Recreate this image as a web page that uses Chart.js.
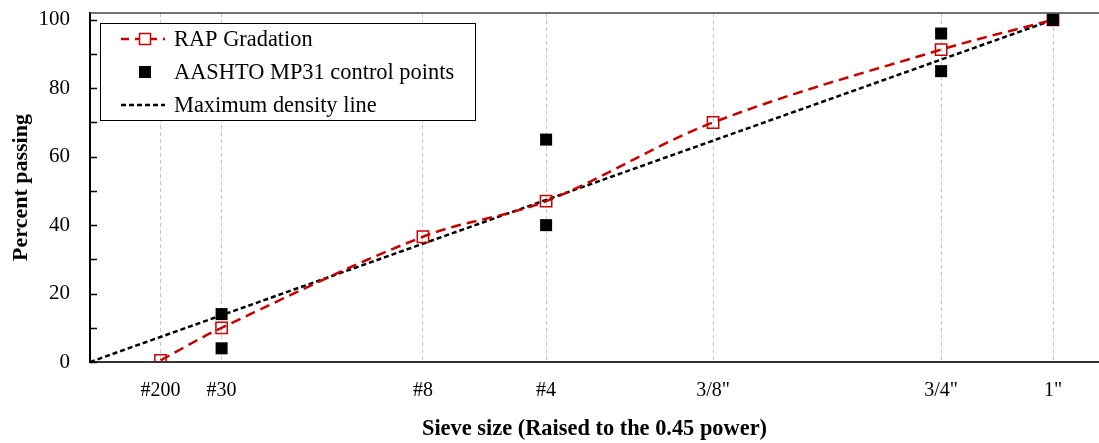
<!DOCTYPE html>
<html>
<head>
<meta charset="utf-8">
<script src="https://cdn.jsdelivr.net/npm/chart.js@4"></script>
<style>
  html, body { margin: 0; padding: 0; background: #fff; }
  #chart { display: block; }
</style>
</head>
<body>
<canvas id="chart" width="1099" height="443"></canvas>
<script>
// sieve openings (mm) and their labels; axis is size^0.45
const sieveLabels = ['#200', '#30', '#8', '#4', '3/8"', '3/4"', '1"'];
const sieveSizes = [0.075, 0.3, 2.36, 4.75, 9.5, 19, 25];

const rapPassing = [0.5, 10, 36.6, 47, 70, 91.3, 100];

const controlSieves = [0.3, 0.3, 4.75, 4.75, 19, 19, 25];
const controlPassing = [14, 4, 65, 40, 96, 85, 100];

const maxDensitySieves = [0, 25];
const maxDensityPassing = [0, 100];

const yTicks = [0, 10, 20, 30, 40, 50, 60, 70, 80, 90, 100];

const POWER = 0.45;
const toX = s => Math.pow(s, POWER);
const RED = '#c80000';
const FONT = "'Liberation Serif', 'Times New Roman', serif";

const pts = (xs, ys) => xs.map((s, i) => ({ x: toX(s), y: ys[i] }));

// inward tick marks on y axis + top frame line
const framePlugin = {
  id: 'frame',
  afterDraw(chart) {
    const { ctx, chartArea } = chart;
    const y = chart.scales.y;
    ctx.save();
    ctx.strokeStyle = '#000';
    ctx.lineWidth = 1.5;
    yTicks.forEach(v => {
      const py = Math.round(y.getPixelForValue(v)) + 0.5;
      ctx.beginPath();
      ctx.moveTo(chartArea.left, py);
      ctx.lineTo(chartArea.left + 7, py);
      ctx.stroke();
    });
    ctx.strokeStyle = '#444';
    ctx.lineWidth = 1.5;
    ctx.beginPath();
    ctx.moveTo(chartArea.left, chartArea.top);
    ctx.lineTo(chartArea.right, chartArea.top);
    ctx.stroke();
    ctx.restore();
  }
};

// legend box inside the plot
const legendPlugin = {
  id: 'boxLegend',
  afterDraw(chart) {
    const { ctx } = chart;
    const bx = 100, by = 23, bw = 375, bh = 97;
    ctx.save();
    ctx.fillStyle = '#fff';
    ctx.fillRect(bx, by, bw, bh);
    ctx.strokeStyle = '#000';
    ctx.lineWidth = 1;
    ctx.strokeRect(bx + 0.5, by + 0.5, bw, bh);

    const rows = [39, 72, 105];
    const x0 = 121, x1 = 165, mx = 145;

    // RAP
    ctx.strokeStyle = RED;
    ctx.lineWidth = 2.5;
    ctx.setLineDash([8, 6]);
    ctx.beginPath(); ctx.moveTo(x0, rows[0]); ctx.lineTo(x1, rows[0]); ctx.stroke();
    ctx.setLineDash([]);
    ctx.fillStyle = '#fff';
    ctx.fillRect(mx - 5.5, rows[0] - 5.5, 11, 11);
    ctx.lineWidth = 1.5;
    ctx.strokeRect(mx - 5.5, rows[0] - 5.5, 11, 11);

    // control points
    ctx.fillStyle = '#000';
    ctx.fillRect(mx - 6, rows[1] - 6, 12, 12);

    // max density
    ctx.strokeStyle = '#000';
    ctx.lineWidth = 2.5;
    ctx.setLineDash([5, 3]);
    ctx.beginPath(); ctx.moveTo(x0, rows[2]); ctx.lineTo(x1, rows[2]); ctx.stroke();
    ctx.setLineDash([]);

    ctx.fillStyle = '#000';
    ctx.font = '22.4px ' + FONT;
    ctx.textBaseline = 'middle';
    ctx.textAlign = 'left';
    const names = chart.data.datasets.map(d => d.label);
    names.forEach((n, i) => ctx.fillText(n, 174, rows[i] + 1));
    ctx.restore();
  }
};

new Chart(document.getElementById('chart'), {
  type: 'scatter',
  data: {
    datasets: [
      {
        label: 'RAP Gradation',
        data: pts(sieveSizes, rapPassing),
        showLine: true,
        borderColor: RED,
        borderWidth: 2.5,
        borderDash: [10, 6],
        tension: 0.35,
        pointStyle: 'rect',
        pointRadius: 8,
        pointBorderWidth: 1.5,
        pointBorderColor: RED,
        pointBackgroundColor: 'rgba(255,255,255,0)',
        order: 1
      },
      {
        label: 'AASHTO MP31 control points',
        data: pts(controlSieves, controlPassing),
        showLine: false,
        pointStyle: 'rect',
        pointRadius: 8.5,
        pointBorderWidth: 0,
        pointBackgroundColor: '#000',
        order: 0
      },
      {
        label: 'Maximum density line',
        data: pts(maxDensitySieves, maxDensityPassing),
        showLine: true,
        borderColor: '#000',
        borderWidth: 2.5,
        borderDash: [5, 3],
        pointRadius: 0,
        order: 2
      }
    ]
  },
  options: {
    responsive: false,
    animation: false,
    devicePixelRatio: 1,
    layout: { autoPadding: false, padding: { top: 13, right: 0, bottom: 0, left: 0 } },
    plugins: {
      legend: { display: false },
      tooltip: { enabled: false }
    },
    scales: {
      x: {
        type: 'linear',
        min: 0,
        max: 4.46,
        afterBuildTicks: scale => {
          scale.ticks = sieveSizes.map(s => ({ value: toX(s) }));
        },
        afterFit: scale => {
          scale.height = 81;
          scale.paddingLeft = 0;
          scale.paddingRight = 0;
        },
        ticks: {
          autoSkip: false,
          maxRotation: 0,
          padding: 17,
          color: '#000',
          font: { family: FONT, size: 20 },
          callback: (v, i) => sieveLabels[i]
        },
        grid: {
          display: true,
          drawTicks: false,
          color: '#c8c8c8',
          lineWidth: 1
        },
        border: { display: true, color: '#333', width: 2, dash: [4, 3] },
        title: {
          display: true,
          text: 'Sieve size (Raised to the 0.45 power)',
          color: '#000',
          font: { family: FONT, size: 22.4, weight: 'bold' },
          padding: { top: 0, bottom: 0 }
        }
      },
      y: {
        min: 0,
        max: 102,
        afterBuildTicks: scale => {
          scale.ticks = yTicks.map(v => ({ value: v }));
        },
        afterFit: scale => {
          scale.width = 90;
          scale.paddingTop = 0;
          scale.paddingBottom = 0;
        },
        ticks: {
          autoSkip: false,
          padding: 20,
          color: '#000',
          font: { family: FONT, size: 21 },
          callback: v => (v % 20 === 0 ? v : '')
        },
        grid: { display: false, drawTicks: false },
        border: { display: true, color: '#000', width: 2 },
        title: {
          display: true,
          text: 'Percent passing',
          color: '#000',
          font: { family: FONT, size: 22, weight: 'bold' },
          padding: { top: 8, bottom: 0 }
        }
      }
    }
  },
  plugins: [framePlugin, legendPlugin]
});
</script>
</body>
</html>
